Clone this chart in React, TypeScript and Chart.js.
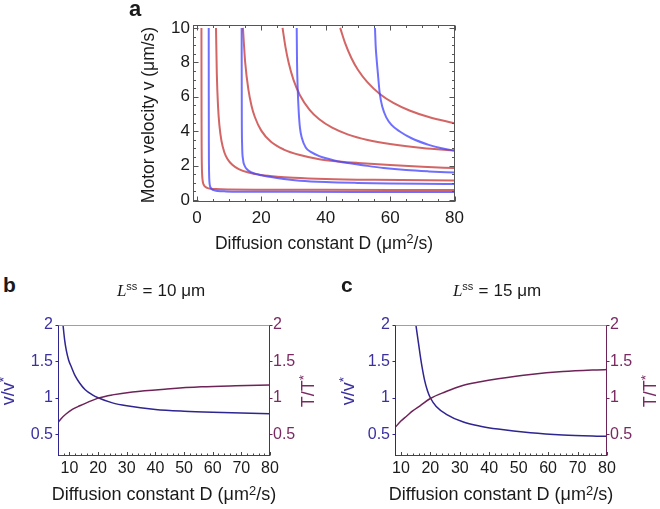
import React, { useEffect, useRef } from "react";
import { Chart, registerables } from "chart.js";

Chart.register(...registerables);

const FONT = "'Liberation Sans', Arial, Helvetica, sans-serif";
const SERIF = "'Liberation Serif', 'Times New Roman', serif";

// ---------------- Panel a data ----------------
const aXTicks = [0, 20, 40, 60, 80];
const aYTicks = [0, 2, 4, 6, 8, 10];

const red1D = [1.42, 1.45, 1.49, 1.55, 1.63, 1.75, 1.91, 2.08, 2.38, 3.2, 4.5, 6, 10, 20, 40, 80];
const red1V = [10, 5, 3, 2, 1.5, 1.2, 1.0, 0.9, 0.8, 0.7, 0.65, 0.63, 0.61, 0.595, 0.585, 0.58];

const blue1D = [3.68, 3.7, 3.72, 3.75, 3.8, 3.9, 4.1, 4.5, 5.2, 6.5, 9, 15, 30, 50, 80];
const blue1V = [10, 6, 3.5, 2.2, 1.5, 1.05, 0.8, 0.65, 0.57, 0.52, 0.495, 0.48, 0.47, 0.465, 0.46];

const red2D = [5.94, 6.2, 6.6, 7, 7.6, 8.5, 9.5, 11, 13, 16, 20, 25, 30, 40, 55, 80];
const red2V = [10, 7.3, 5.35, 4.33, 3.47, 2.79, 2.38, 2.04, 1.79, 1.59, 1.45, 1.35, 1.29, 1.22, 1.17, 1.13];

const blue2D = [13.9, 13.95, 14.05, 14.3, 14.8, 15.8, 17, 18.5, 20, 23, 27, 32, 40, 50, 60, 70, 80];
const blue2V = [10, 5, 3.2, 2.4, 2.0, 1.74, 1.6, 1.5, 1.44, 1.33, 1.22, 1.12, 1.04, 0.99, 0.96, 0.94, 0.93];

const red3D = [14.3, 15, 16, 17, 18, 20, 23, 27, 32, 38, 44, 50, 60, 70, 80];
const red3V = [10, 8.0, 6.41, 5.45, 4.82, 4.03, 3.38, 2.93, 2.61, 2.37, 2.24, 2.15, 2.03, 1.93, 1.85];

const blue3D = [31, 31.1, 31.3, 31.6, 32, 32.6, 33.8, 35.5, 38, 41, 44, 48, 53, 58, 65, 72, 80];
const blue3V = [10, 8, 6.5, 5.2, 4.2, 3.6, 3.05, 2.78, 2.55, 2.38, 2.24, 2.12, 1.98, 1.86, 1.74, 1.66, 1.59];

const red4D = [26.6, 27.5, 28.5, 30, 32, 35, 38, 42, 47, 53, 60, 70, 80];
const red4V = [10, 8.9, 7.97, 6.98, 6.09, 5.24, 4.69, 4.2, 3.8, 3.49, 3.25, 3.02, 2.87];

const blue4D = [55.3, 55.5, 55.8, 56.1, 56.8, 57.6, 58.8, 60.5, 63, 66.5, 72, 76, 80];
const blue4V = [10, 9, 8.2, 7.56, 6.16, 5.4, 4.8, 4.35, 3.98, 3.6, 3.2, 3.0, 2.87];

const red5D = [44.5, 46, 48, 50, 53, 56.8, 61, 66, 72, 80];
const red5V = [10, 9.13, 8.24, 7.57, 6.83, 6.16, 5.64, 5.2, 4.82, 4.46];

// ---------------- Panel b / c data ----------------
const bcXTicks = [10, 20, 30, 40, 50, 60, 70, 80];
const bcYTicks = [0.5, 1, 1.5, 2];

const bVD = [7.75, 8.3, 8.9, 9.7, 10.7, 12, 13.6, 15.5, 18, 20, 25, 30, 40, 50, 60, 70, 80];
const bV = [2.0, 1.8, 1.65, 1.52, 1.42, 1.3, 1.2, 1.11, 1.04, 1.0, 0.93, 0.89, 0.84, 0.815, 0.8, 0.79, 0.78];
const bTD = [6, 7, 8.9, 11, 13.6, 16.5, 20, 25, 32, 44, 56, 68, 80];
const bT = [0.66, 0.71, 0.78, 0.84, 0.89, 0.94, 0.995, 1.04, 1.08, 1.12, 1.15, 1.165, 1.175];

const cVD = [15.1, 15.8, 16.5, 17.2, 18, 19, 20, 22, 25.6, 31, 37, 43, 54, 65, 80];
const cV = [2.0, 1.8, 1.6, 1.42, 1.25, 1.1, 1.0, 0.88, 0.77, 0.67, 0.61, 0.57, 0.52, 0.49, 0.47];
const cTD = [8, 10, 12, 14, 16.5, 20, 25, 31, 37, 43, 54, 65, 80];
const cT = [0.59, 0.68, 0.75, 0.82, 0.89, 0.99, 1.08, 1.17, 1.22, 1.26, 1.32, 1.36, 1.39];

// ---------------- styles ----------------
const RED = "rgba(200, 62, 62, 0.8)";
const BLUE = "rgba(70, 70, 255, 0.78)";
const NAVY = "#2e2590";
const PLUM = "#6e2358";
const NAVY_TXT = "#3a30a0";
const PLUM_TXT = "#7a2a62";
const TXT = "#1a1a1a";

function line(xs: number[], ys: number[], color: string, width: number, axis?: string) {
  const ds: any = {
    data: xs.map((x, i) => ({ x, y: ys[i] })),
    borderColor: color,
    borderWidth: width,
    pointRadius: 0,
    fill: false,
    cubicInterpolationMode: "monotone",
  };
  if (axis) ds.yAxisID = axis;
  return ds;
}

const frameA = {
  id: "frameA",
  afterDraw(chart: any) {
    const { ctx, chartArea, scales } = chart;
    const xs = scales.x;
    const ys = scales.y;
    const L = Math.round(chartArea.left) + 0.5;
    const R = Math.round(chartArea.right) - 0.5;
    const T = Math.round(chartArea.top) + 0.5;
    const B = Math.round(chartArea.bottom) - 0.5;
    ctx.save();
    ctx.strokeStyle = "#555";
    ctx.lineWidth = 1;
    ctx.strokeRect(L, T, R - L, B - T);
    ctx.beginPath();
    for (let k = 0; k <= 16; k++) {
      const v = k * 5;
      const px = Math.round(xs.getPixelForValue(v)) + 0.5;
      const len = k % 4 === 0 ? 5 : 2.5;
      ctx.moveTo(px, B);
      ctx.lineTo(px, B - len);
      ctx.moveTo(px, T);
      ctx.lineTo(px, T + len);
    }
    for (let k = 0; k <= 20; k++) {
      const v = k * 0.5;
      const py = Math.round(ys.getPixelForValue(v)) + 0.5;
      const len = k % 4 === 0 ? 5 : 2.5;
      ctx.moveTo(L, py);
      ctx.lineTo(L + len, py);
      ctx.moveTo(R, py);
      ctx.lineTo(R - len, py);
    }
    ctx.stroke();
    ctx.restore();
  },
};

const frameBC = {
  id: "frameBC",
  afterDraw(chart: any) {
    const { ctx, chartArea, scales } = chart;
    const xs = scales.x;
    const ys = scales.y;
    const L = Math.round(chartArea.left) + 0.5;
    const R = Math.round(chartArea.right) - 0.5;
    const T = Math.round(chartArea.top) + 0.5;
    const B = Math.round(chartArea.bottom) - 0.5;
    ctx.save();
    ctx.lineWidth = 1;
    // top
    ctx.strokeStyle = "#a0a0a0";
    ctx.beginPath();
    ctx.moveTo(L, T);
    ctx.lineTo(R, T);
    ctx.stroke();
    // bottom with ticks
    ctx.strokeStyle = "#444";
    ctx.beginPath();
    ctx.moveTo(L, B);
    ctx.lineTo(R, B);
    for (let v = 2; v <= 80; v += 2) {
      if (v < xs.min) continue;
      const px = Math.round(xs.getPixelForValue(v)) + 0.5;
      const len = v % 10 === 0 ? 3.5 : 2;
      ctx.moveTo(px, B);
      ctx.lineTo(px, B - len);
    }
    ctx.stroke();
    // left
    ctx.strokeStyle = NAVY;
    ctx.beginPath();
    ctx.moveTo(L, T);
    ctx.lineTo(L, B + 0.5);
    for (const v of bcYTicks) {
      const py = Math.round(ys.getPixelForValue(v)) + 0.5;
      ctx.moveTo(L, py);
      ctx.lineTo(L - 3, py);
    }
    ctx.stroke();
    // right
    ctx.strokeStyle = PLUM;
    ctx.beginPath();
    ctx.moveTo(R, T);
    ctx.lineTo(R, B + 0.5);
    for (const v of bcYTicks) {
      const py = Math.round(ys.getPixelForValue(v)) + 0.5;
      ctx.moveTo(R, py);
      ctx.lineTo(R + 3, py);
    }
    ctx.stroke();
    ctx.restore();
  },
};

function bcConfig(vD: number[], vV: number[], tD: number[], tV: number[], xMin: number, leftW: number, rightW: number): any {
  const tickBase = { autoSkip: false, maxRotation: 0, minRotation: 0 };
  return {
    type: "line",
    data: {
      datasets: [line(tD, tV, PLUM, 1.5, "y2"), line(vD, vV, NAVY, 1.5, "y")],
    },
    options: {
      animation: false,
      responsive: false,
      events: [],
      layout: { padding: { top: 25, left: 0, right: 0, bottom: 0 } },
      plugins: { legend: { display: false }, tooltip: { enabled: false } },
      scales: {
        x: {
          type: "linear",
          min: xMin,
          max: 80,
          grid: { display: false, drawTicks: false },
          border: { display: false },
          ticks: { ...tickBase, font: { family: FONT, size: 16 }, color: TXT, padding: 3 },
          afterBuildTicks: (s: any) => {
            s.ticks = bcXTicks.map((v) => ({ value: v }));
          },
          afterFit: (s: any) => {
            s.height = 53;
          },
        },
        y: {
          type: "linear",
          position: "left",
          min: 0.2,
          max: 2,
          grid: { display: false, drawTicks: false },
          border: { display: false },
          ticks: { ...tickBase, font: { family: FONT, size: 16 }, color: NAVY_TXT, padding: 5, callback: (v: any) => String(v) },
          afterBuildTicks: (s: any) => {
            s.ticks = bcYTicks.map((v) => ({ value: v }));
          },
          afterFit: (s: any) => {
            s.width = leftW;
          },
        },
        y2: {
          type: "linear",
          position: "right",
          min: 0.2,
          max: 2,
          grid: { display: false, drawTicks: false },
          border: { display: false },
          ticks: { ...tickBase, font: { family: FONT, size: 16 }, color: PLUM_TXT, padding: 3, callback: (v: any) => String(v) },
          afterBuildTicks: (s: any) => {
            s.ticks = bcYTicks.map((v) => ({ value: v }));
          },
          afterFit: (s: any) => {
            s.width = rightW;
          },
        },
      },
    },
    plugins: [frameBC],
  };
}

function aConfig(): any {
  const tickBase = { autoSkip: false, maxRotation: 0, minRotation: 0 };
  return {
    type: "line",
    data: {
      datasets: [
        line(blue1D, blue1V, BLUE, 2),
        line(blue2D, blue2V, BLUE, 2),
        line(blue3D, blue3V, BLUE, 2),
        line(blue4D, blue4V, BLUE, 2),
        line(red1D, red1V, RED, 2),
        line(red2D, red2V, RED, 2),
        line(red3D, red3V, RED, 2),
        line(red4D, red4V, RED, 2),
        line(red5D, red5V, RED, 2),
      ],
    },
    options: {
      animation: false,
      responsive: false,
      events: [],
      layout: { padding: { top: 25, left: 0, right: 13, bottom: 0 } },
      plugins: { legend: { display: false }, tooltip: { enabled: false } },
      scales: {
        x: {
          type: "linear",
          min: -1.2,
          max: 80,
          grid: { display: false, drawTicks: false },
          border: { display: false },
          ticks: { ...tickBase, font: { family: FONT, size: 17 }, color: TXT, padding: 6 },
          afterBuildTicks: (s: any) => {
            s.ticks = aXTicks.map((v) => ({ value: v }));
          },
          afterFit: (s: any) => {
            s.height = 58;
          },
        },
        y: {
          type: "linear",
          min: -0.12,
          max: 10.17,
          grid: { display: false, drawTicks: false },
          border: { display: false },
          ticks: { ...tickBase, font: { family: FONT, size: 17 }, color: TXT, padding: 3, callback: (v: any) => String(v) },
          afterBuildTicks: (s: any) => {
            s.ticks = aYTicks.map((v) => ({ value: v }));
          },
          afterFit: (s: any) => {
            s.width = 63;
          },
        },
      },
    },
    plugins: [frameA],
  };
}

function useChart(ref: React.RefObject<HTMLCanvasElement>, make: () => any) {
  useEffect(() => {
    if (!ref.current) return;
    const chart = new Chart(ref.current, make());
    return () => chart.destroy();
  }, []);
}

type TxtProps = {
  x: number;
  y: number;
  size: number;
  children: React.ReactNode;
  color?: string;
  bold?: boolean;
  center?: boolean;
  rotate?: boolean;
};

function Txt({ x, y, size, children, color = TXT, bold = false, center = false, rotate = false }: TxtProps) {
  const style: React.CSSProperties = {
    position: "absolute",
    left: x,
    top: y,
    fontFamily: FONT,
    fontSize: size,
    lineHeight: `${size}px`,
    fontWeight: bold ? 700 : 400,
    color,
    whiteSpace: "nowrap",
  };
  if (rotate) style.transform = "translate(-50%, -50%) rotate(-90deg)";
  else if (center) style.transform = "translateX(-50%)";
  return <div style={style}>{children}</div>;
}

const Sup = ({ children, size, top }: { children: React.ReactNode; size: string; top: string }) => (
  <span style={{ fontSize: size, position: "relative", top }}>{children}</span>
);

const DiffLabel = () => (
  <>
    Diffusion constant D (μm<Sup size="0.72em" top="-0.42em">2</Sup>/s)
  </>
);

const LTitle = ({ n }: { n: string }) => (
  <>
    <span style={{ fontFamily: SERIF, fontStyle: "italic" }}>L</span>
    <Sup size="0.65em" top="-0.5em">ss</Sup>
    <span style={{ margin: "0 0.3em" }}>=</span>
    {n} μm
  </>
);

export default function App() {
  const aRef = useRef<HTMLCanvasElement>(null);
  const bRef = useRef<HTMLCanvasElement>(null);
  const cRef = useRef<HTMLCanvasElement>(null);

  useChart(aRef, aConfig);
  useChart(bRef, () => bcConfig(bVD, bV, bTD, bT, 6, 58, 60));
  useChart(cRef, () => bcConfig(cVD, cV, cTD, cT, 8, 65, 53));

  return (
    <div style={{ position: "absolute", left: 0, top: 0, width: 660, height: 509, background: "#fff", overflow: "hidden" }}>
      <canvas ref={aRef} width={340} height={260} style={{ position: "absolute", left: 130, top: 0, width: 340, height: 260 }} />
      <canvas ref={bRef} width={330} height={209} style={{ position: "absolute", left: 0, top: 300, width: 330, height: 209 }} />
      <canvas ref={cRef} width={330} height={209} style={{ position: "absolute", left: 330, top: 300, width: 330, height: 209 }} />

      {/* panel a */}
      <Txt x={129} y={-1.6} size={22} bold>a</Txt>
      <Txt x={149} y={115} size={17.5} rotate>Motor velocity v (μm/s)</Txt>
      <Txt x={324} y={234.5} size={17.5} center>
        <DiffLabel />
      </Txt>

      {/* panel b */}
      <Txt x={3} y={274.2} size={21} bold>b</Txt>
      <Txt x={161} y={281.6} size={17} center>
        <LTitle n="10" />
      </Txt>
      <Txt x={8.8} y={391} size={18} rotate color={NAVY_TXT}>
        v/v<Sup size="0.75em" top="-0.45em">*</Sup>
      </Txt>
      <Txt x={308.8} y={391} size={18} rotate color={PLUM_TXT}>
        T/T<Sup size="0.75em" top="-0.45em">*</Sup>
      </Txt>
      <Txt x={164} y={485.3} size={18} center>
        <DiffLabel />
      </Txt>

      {/* panel c */}
      <Txt x={341} y={274.2} size={21} bold>c</Txt>
      <Txt x={497} y={281.6} size={17} center>
        <LTitle n="15" />
      </Txt>
      <Txt x={348.8} y={391} size={18} rotate color={NAVY_TXT}>
        v/v<Sup size="0.75em" top="-0.45em">*</Sup>
      </Txt>
      <Txt x={650.5} y={391} size={18} rotate color={PLUM_TXT}>
        T/T<Sup size="0.75em" top="-0.45em">*</Sup>
      </Txt>
      <Txt x={501} y={485.3} size={18} center>
        <DiffLabel />
      </Txt>
    </div>
  );
}
